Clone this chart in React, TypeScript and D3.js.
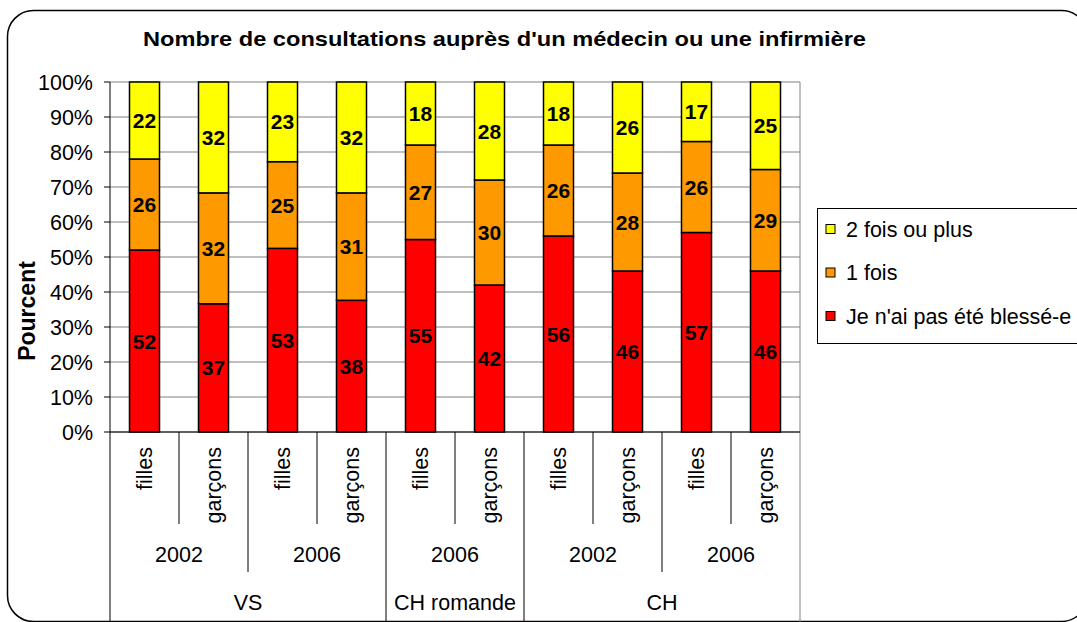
import * as d3 from 'd3';
import React from 'react';

const regions = ['VS', 'VS', 'VS', 'VS', 'CH romande', 'CH romande', 'CH', 'CH', 'CH', 'CH'];
const years = ['2002', '2002', '2006', '2006', '2006', '2006', '2002', '2002', '2006', '2006'];
const sexes = ['filles', 'garçons', 'filles', 'garçons', 'filles', 'garçons', 'filles', 'garçons', 'filles', 'garçons'];

const pasBlesse = [52, 37, 53, 38, 55, 42, 56, 46, 57, 46];
const uneFois = [26, 32, 25, 31, 27, 30, 26, 28, 26, 29];
const deuxFoisOuPlus = [22, 32, 23, 32, 18, 28, 18, 26, 17, 25];

const seriesNames = ['Je n\'ai pas été blessé-e', '1 fois', '2 fois ou plus'];
const seriesColors = ['#FF0000', '#FF9900', '#FFFF00'];
const yTickValues = [0, 0.1, 0.2, 0.3, 0.4, 0.5, 0.6, 0.7, 0.8, 0.9, 1];

const title = "Nombre de consultations auprès d'un médecin ou une infirmière";

const width = 1077;
const height = 622;
const plot = { left: 110, right: 800, top: 82, bottom: 432 };
const font = 'Liberation Sans, Arial, sans-serif';
const labelSize = 21.5;

interface Row {
  idx: number;
  s0: number;
  s1: number;
  s2: number;
}

const rows: Row[] = pasBlesse.map((v, i) => ({ idx: i, s0: v, s1: uneFois[i], s2: deuxFoisOuPlus[i] }));

// group consecutive equal labels into spans
function spans(labels: string[], parent?: string[]) {
  const out: { label: string; start: number; end: number }[] = [];
  labels.forEach((l, i) => {
    const last = out[out.length - 1];
    if (last && last.label === l && (!parent || parent[i] === parent[last.start])) last.end = i + 1;
    else out.push({ label: l, start: i, end: i + 1 });
  });
  return out;
}

const App: React.FC = () => {
  const xScale = d3
    .scaleBand<number>()
    .domain(rows.map((d) => d.idx))
    .range([plot.left, plot.right])
    .paddingInner(0.565)
    .paddingOuter(0.2825);

  const step = xScale.step();
  const edge = (i: number) => plot.left + i * step;

  const yScale = d3.scaleLinear().domain([0, 1]).range([plot.bottom, plot.top]);

  const stack = d3
    .stack<Row>()
    .keys(['s0', 's1', 's2'])
    .offset(d3.stackOffsetExpand);
  const layers = stack(rows);

  const yearSpans = spans(years, regions);
  const regionSpans = spans(regions);

  const regionEdges = new Set(regionSpans.map((s) => s.start).concat([rows.length]));
  const yearEdges = new Set(yearSpans.map((s) => s.start));

  const legendItems = [2, 1, 0];

  return (
    <svg
      width={width}
      height={height}
      style={{ position: 'absolute', left: 0, top: 0, background: '#fff' }}
      fontFamily={font}
    >
      <rect x={7.5} y={10.5} width={1080} height={611} rx={26} fill="#fff" stroke="#000" strokeWidth={1.5} />

      <text
        x={143}
        y={46}
        fontSize={21}
        fontWeight="bold"
        textLength={723}
        lengthAdjust="spacingAndGlyphs"
      >
        {title}
      </text>

      {/* grid */}
      {yTickValues.map((t) => (
        <line key={`g-${t}`} x1={plot.left} x2={plot.right} y1={yScale(t)} y2={yScale(t)} stroke="#808080" />
      ))}
      <line x1={plot.right} x2={plot.right} y1={plot.top} y2={height} stroke="#808080" />

      {/* bars */}
      {layers.map((layer, li) =>
        layer.map((seg, i) => {
          const x = xScale(i) ?? 0;
          const y0 = yScale(seg[0]);
          const y1 = yScale(seg[1]);
          const value = [pasBlesse, uneFois, deuxFoisOuPlus][li][i];
          return (
            <g key={`b-${li}-${i}`}>
              <rect
                x={x}
                y={y1}
                width={xScale.bandwidth()}
                height={y0 - y1}
                fill={seriesColors[li]}
                stroke="#000"
                strokeWidth={1.5}
              />
              <text
                x={x + xScale.bandwidth() / 2}
                y={(y0 + y1) / 2}
                dy="0.36em"
                textAnchor="middle"
                fontSize={21}
                fontWeight="bold"
              >
                {value}
              </text>
            </g>
          );
        })
      )}

      {/* y axis */}
      <line x1={plot.left} x2={plot.left} y1={plot.top} y2={height} stroke="#000" />
      {yTickValues.map((t) => (
        <g key={`y-${t}`} transform={`translate(${plot.left},${yScale(t)})`}>
          <line x1={-6} x2={0} stroke="#000" />
          <text x={-17} dy="0.36em" textAnchor="end" fontSize={labelSize}>
            {d3.format('.0%')(t)}
          </text>
        </g>
      ))}
      <text transform="translate(35,311) rotate(-90)" textAnchor="middle" fontSize={23} fontWeight="bold">
        Pourcent
      </text>

      {/* x axis */}
      <line x1={plot.left} x2={plot.right} y1={plot.bottom} y2={plot.bottom} stroke="#000" />
      {d3.range(1, rows.length).map((i) => {
        const y2 = regionEdges.has(i) ? height : yearEdges.has(i) ? 572 : 524;
        return <line key={`sep-${i}`} x1={edge(i)} x2={edge(i)} y1={plot.bottom} y2={y2} stroke="#000" />;
      })}
      {rows.map((d) => (
        <text
          key={`sx-${d.idx}`}
          transform={`translate(${(xScale(d.idx) ?? 0) + xScale.bandwidth() / 2 + 7.5},447) rotate(-90)`}
          textAnchor="end"
          fontSize={labelSize}
        >
          {sexes[d.idx]}
        </text>
      ))}
      {yearSpans.map((s) => (
        <text key={`yr-${s.start}`} x={(edge(s.start) + edge(s.end)) / 2} y={562} textAnchor="middle" fontSize={labelSize}>
          {s.label}
        </text>
      ))}
      {regionSpans.map((s) => (
        <text key={`rg-${s.start}`} x={(edge(s.start) + edge(s.end)) / 2} y={610} textAnchor="middle" fontSize={labelSize}>
          {s.label}
        </text>
      ))}

      {/* legend */}
      <rect x={817.5} y={208.5} width={280} height={135} fill="#fff" stroke="#000" />
      {legendItems.map((si, k) => {
        const cy = 229 + k * 43.5;
        return (
          <g key={`lg-${si}`}>
            <rect x={826} y={cy - 4.5} width={9} height={9} fill={seriesColors[si]} stroke="#000" />
            <text x={846} y={cy} dy="0.36em" fontSize={labelSize}>
              {seriesNames[si]}
            </text>
          </g>
        );
      })}
    </svg>
  );
};

export default App;
